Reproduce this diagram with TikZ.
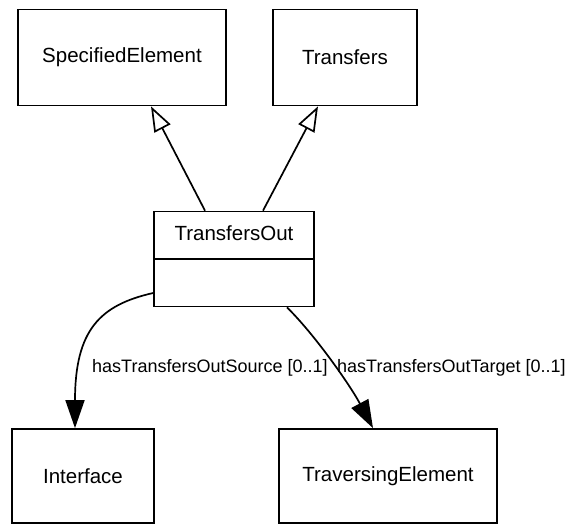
\documentclass[tikz,border=0pt]{standalone}
\usepackage{fontspec}
\setmainfont{Liberation Sans}
\usetikzlibrary{arrows.meta}

\begin{document}
\begin{tikzpicture}[x=1pt,y=-1pt,
  classbox/.style={draw, line width=1.7pt, inner sep=0pt, font=\fontsize{20.5}{24}\selectfont},
  gen/.style={line width=1.7pt, -{Triangle[open, length=25pt, width=18pt]}},
  assoc/.style={line width=1.7pt, -{Triangle[length=28pt, width=19pt]}},
  rolelabel/.style={anchor=west, inner sep=0pt, font=\fontsize{18}{22}\selectfont}]
  \useasboundingbox (0,0) rectangle (581,525);

  % Parent classes
  \node[classbox, minimum width=208pt, minimum height=96pt] (specified) at (122,57.5) {SpecifiedElement};
  \node[classbox, minimum width=144pt, minimum height=96pt] (transfers) at (345,57.5) {Transfers};

  % TransfersOut with an empty attribute compartment
  \node[classbox, minimum width=160pt, minimum height=95pt] (out) at (234,259) {};
  \draw[line width=1.7pt] (out.west) -- (out.east);
  \node[font=\fontsize{20.5}{24}\selectfont, inner sep=0pt] (outname) at (234,233) {TransfersOut};

  % Target classes
  \node[classbox, minimum width=142pt, minimum height=94pt] (interface) at (83,476) {Interface};
  \node[classbox, minimum width=218pt, minimum height=94pt] (traversing) at (388,476) {TraversingElement};

  % Generalisations
  \draw[gen] ([xshift=-29pt]out.north) -- ([xshift=29pt]specified.south);
  \draw[gen] ([xshift=29pt]out.north) -- ([xshift=-27pt]transfers.south);

  % Associations
  \draw[assoc] ([yshift=-34pt]out.west) .. controls (100,305) and (75,330) .. ([xshift=-8pt]interface.north);
  \draw[assoc] ([xshift=53pt]out.south) .. controls (315,335) and (350,385) .. ([xshift=-15pt]traversing.north);
  \node[rolelabel] (srcrole) at (92,368) {hasTransfersOutSource [0..1]};
  \node[rolelabel] (tgtrole) at (337,368) {hasTransfersOutTarget [0..1]};
\end{tikzpicture}
\end{document}
